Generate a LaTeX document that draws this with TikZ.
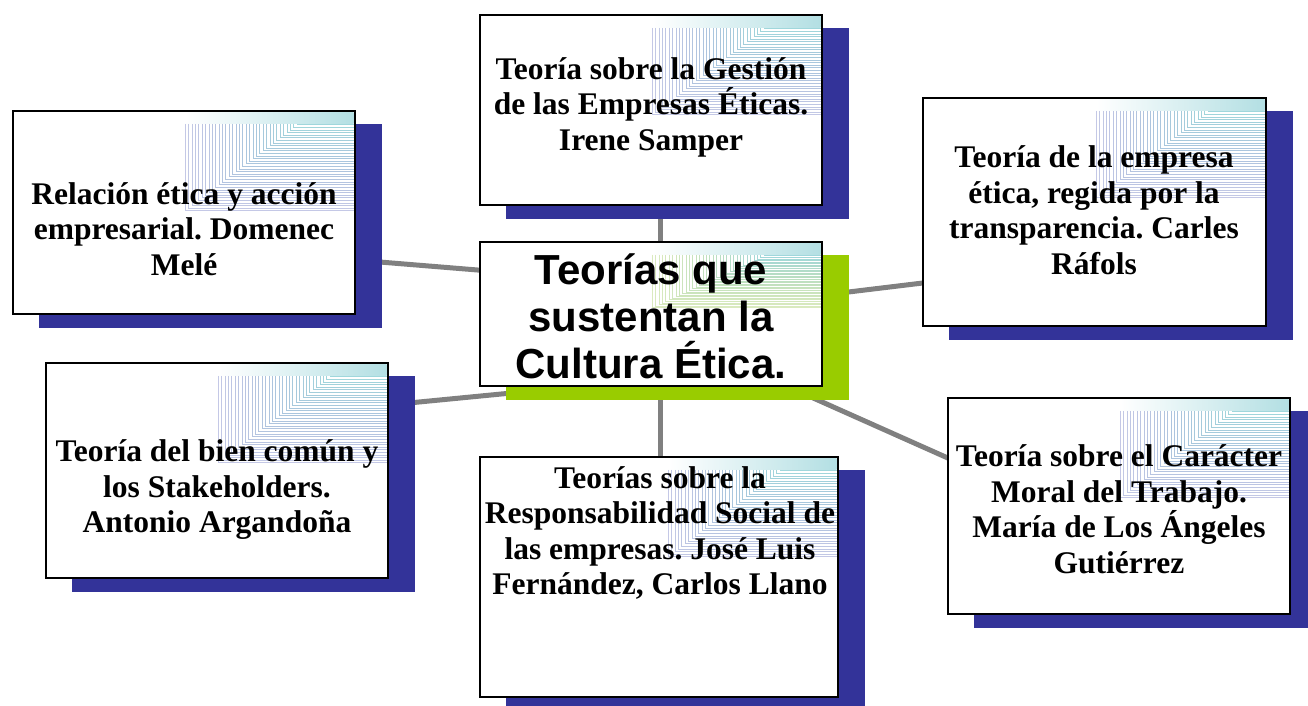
\documentclass[tikz,border=0pt]{standalone}
\usepackage{fontspec}
\setmainfont{Liberation Serif}
\newfontfamily\arialfont{Liberation Sans}
\usetikzlibrary{calc}
\frenchspacing
\definecolor{navy}{RGB}{51,51,153}
\definecolor{lgreen}{RGB}{153,204,0}
\definecolor{conn}{RGB}{128,128,128}
\definecolor{patblue}{RGB}{125,135,200}
\definecolor{patcyan}{RGB}{160,215,220}
\definecolor{patgreen}{RGB}{175,210,115}
\newcommand\cornerpat[5]{%
  \shade[left color=white, right color=#5!80] ($(#1.north east)+(-#2,1.5)$) rectangle ($(#1.north east)+(-1.5,13)$);
  \foreach \i in {0,...,33}{%
    \pgfmathsetmacro\px{-#2+\i*(#2-58)/33}%
    \pgfmathsetmacro\py{#3-\i*(#3-14)/33}%
    \pgfmathtruncatemacro\pc{100-\i*100/33}%
    \pgfmathsetmacro\op{0.45+0.55*\i/33}%
    \draw[color=#4!\pc!#5, opacity=\op, line width=0.9pt]
      ($(#1.north east)+(\px,13)$) -- ($(#1.north east)+(\px,\py)$) -- ($(#1.north east)+(-1.5,\py)$);
  }%
}
\tikzset{
  txt/.style={align=center, font=\fontsize{31.5}{35.5}\selectfont\bfseries, inner sep=0pt},
  ctxt/.style={align=center, font=\arialfont\fontsize{42}{47}\selectfont\bfseries, inner sep=0pt},
  link/.style={draw=conn, line width=5pt},
  boxfill/.style={fill=white, draw=black, line width=1.5pt},
}
\begin{document}
\begin{tikzpicture}[x=1pt,y=-1pt]
\useasboundingbox (0,0) rectangle (1308,706);
% boxes (geometry only, drawn later)
\path
  (184,212.5) node[minimum width=342pt, minimum height=203pt] (tl) {}
  (651,110) node[minimum width=342pt, minimum height=190pt] (top) {}
  (1094.5,212) node[minimum width=343pt, minimum height=228pt] (rt) {}
  (217,470.5) node[minimum width=342pt, minimum height=215pt] (lb) {}
  (659,577) node[minimum width=358pt, minimum height=240pt] (bc) {}
  (1119,506) node[minimum width=342pt, minimum height=216pt] (br) {}
  (651,314) node[minimum width=342pt, minimum height=144pt] (c) {};
% connectors
\draw[link] ($(top.south)+(9,0)$) -- ($(c.north)+(9,0)$);
\draw[link] ($(c.south)+(9,0)$) -- ($(bc.north)+(1,0)$);
\draw[link] ($(tl.east)+(0,47.5)$) -- ($(c.west)+(10,-43)$);
\draw[link] ($(lb.east)+(0,-65.5)$) -- ($(c.south west)+(40,6)$);
\draw[link] ($(c.east)+(18,-21)$) -- ($(rt.west)+(0,71)$);
\draw[link] ($(c.south east)+(-22,6)$) -- ($(br.west)+(0,-48)$);
% shadows
\foreach \n in {tl,top,rt,lb,bc,br}{
  \fill[navy] ($(\n.south west)+(26,14)$) rectangle ($(\n.north east)+(27,13)$);
}
\fill[lgreen] ($(c.south west)+(26,14)$) rectangle ($(c.north east)+(27,13)$);
% white boxes
\foreach \n in {tl,top,rt,lb,bc,br,c}{
  \filldraw[boxfill] (\n.south west) rectangle (\n.north east);
}
% corner patterns
\foreach \n in {tl,top,rt,lb,bc,br}{
  \cornerpat{\n}{170}{100}{patblue}{patcyan}
}
\cornerpat{c}{170}{66}{patgreen}{patcyan}
% texts
\node[txt] (ttl) at (184,229) {Relación ética y acción\\empresarial. Domenec\\Melé};
\node[txt] (ttop) at (651,107) {Teoría sobre la Gestión\\de las Empresas Éticas.\\Irene Samper};
\node[txt] (trt) at (1094,210) {Teoría de la empresa\\ética, regida por la\\transparencia. Carles\\Ráfols};
\node[txt] (tlb) at (217,490) {Teoría del bien común y\\los Stakeholders.\\Antonio Argandoña};
\node[txt] (tbc) at (660,533) {Teorías sobre la\\Responsabilidad Social de\\las empresas. José Luis\\Fernández, Carlos Llano};
\node[txt] (tbr) at (1119,509) {Teoría sobre el Carácter\\Moral del Trabajo.\\María de Los Ángeles\\Gutiérrez};
\node[ctxt] (tc) at (651,316) {Teorías que\\sustentan la\\Cultura Ética.};
\end{tikzpicture}
\end{document}
